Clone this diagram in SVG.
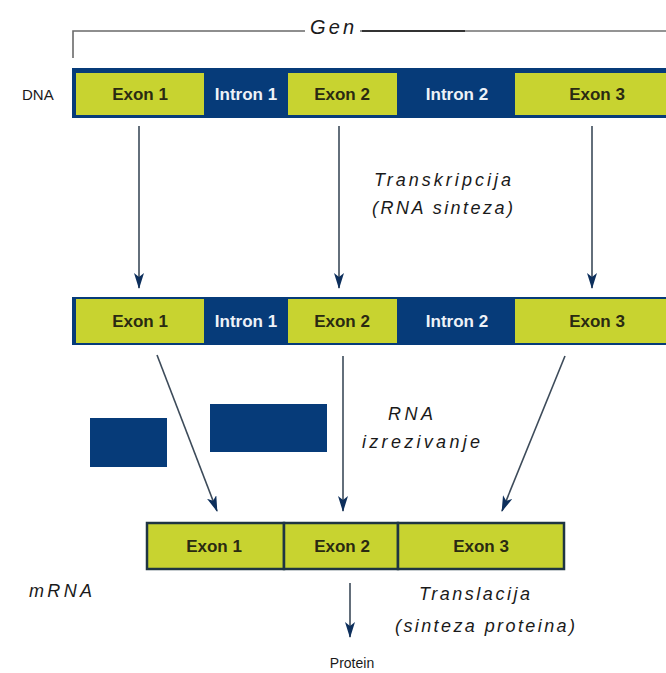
<svg xmlns="http://www.w3.org/2000/svg" width="666" height="673" viewBox="0 0 666 673">
<style>
.bg{fill:#ffffff}
.navy{fill:#063b79}
.exon{fill:#c8d330}
.ex{font-family:"Liberation Sans",Arial,sans-serif;font-size:17px;font-weight:bold;fill:#2a2a12;text-anchor:middle}
.in{font-family:"Liberation Sans",Arial,sans-serif;font-size:17px;font-weight:bold;fill:#eef2f8;text-anchor:middle}
.lab{font-family:"Liberation Sans",Arial,sans-serif;font-size:14px;fill:#1a1a1a}
.it{font-family:"Liberation Sans",Arial,sans-serif;font-size:18px;font-style:italic;fill:#1a1a1a}
.mexon{fill:#c8d330;stroke:#1f3542;stroke-width:2.5}
.conn{stroke:#3d4b5a;stroke-width:1.6;fill:none}
</style>
<defs>
<marker id="ah" viewBox="0 0 16 10" refX="15" refY="5" markerWidth="16" markerHeight="10" markerUnits="userSpaceOnUse" orient="auto">
<path d="M0,0 L16,5 L0,10 L4,5 z" fill="#0d2f5c"/>
</marker>
</defs>
<rect class="bg" x="0" y="0" width="666" height="673"/>

<g id="gene-bracket">
<path d="M73,58 L73,31 L305,31" stroke="#6a6a6a" stroke-width="1.6" fill="none"/>
<path d="M360,31 L666,31" stroke="#707070" stroke-width="1.6" fill="none"/>
<path d="M362,31 L465,31" stroke="#333333" stroke-width="1.8" fill="none"/>
<text class="it" x="310" y="34" style="font-size:20px" textLength="44" lengthAdjust="spacing">Gen</text>
</g>

<g id="dna-label"><text class="lab" x="22" y="100" style="font-size:15px">DNA</text></g>

<g id="dna">
<rect class="navy" x="72" y="68" width="610" height="50"/>
<g id="dna-exon1"><rect class="exon" x="76" y="73" width="128" height="42"/><text class="ex" x="140" y="100">Exon 1</text></g>
<g id="dna-intron1"><text class="in" x="246" y="100">Intron 1</text></g>
<g id="dna-exon2"><rect class="exon" x="288" y="73" width="109" height="42"/><text class="ex" x="342" y="100">Exon 2</text></g>
<g id="dna-intron2"><text class="in" x="457" y="100">Intron 2</text></g>
<g id="dna-exon3"><rect class="exon" x="515" y="73" width="170" height="42"/><text class="ex" x="597" y="100">Exon 3</text></g>
</g>

<g id="pre-mrna">
<rect class="navy" x="72" y="297" width="610" height="48"/>
<g id="pre-exon1"><rect class="exon" x="76" y="299" width="128" height="44"/><text class="ex" x="140" y="327">Exon 1</text></g>
<g id="pre-intron1"><text class="in" x="246" y="327">Intron 1</text></g>
<g id="pre-exon2"><rect class="exon" x="288" y="299" width="109" height="44"/><text class="ex" x="342" y="327">Exon 2</text></g>
<g id="pre-intron2"><text class="in" x="457" y="327">Intron 2</text></g>
<g id="pre-exon3"><rect class="exon" x="515" y="299" width="170" height="44"/><text class="ex" x="597" y="327">Exon 3</text></g>
</g>

<g id="excised-intron1"><rect class="navy" x="90" y="418" width="77" height="49"/></g>
<g id="excised-intron2"><rect class="navy" x="210" y="404" width="117" height="48"/></g>

<g id="mrna">
<g id="m-exon1"><rect class="mexon" x="147" y="523" width="137" height="46"/><text class="ex" x="214" y="552">Exon 1</text></g>
<g id="m-exon2"><rect class="mexon" x="284" y="523" width="114" height="46"/><text class="ex" x="342" y="552">Exon 2</text></g>
<g id="m-exon3"><rect class="mexon" x="398" y="523" width="166" height="46"/><text class="ex" x="481" y="552">Exon 3</text></g>
</g>

<g id="mrna-label"><text class="it" x="29" y="597" textLength="63" lengthAdjust="spacing">mRNA</text></g>

<g id="transcription-label">
<text class="it" x="374" y="186" textLength="137" lengthAdjust="spacing">Transkripcija</text>
<text class="it" x="372" y="214" textLength="141" lengthAdjust="spacing">(RNA sinteza)</text>
</g>

<g id="splicing-label">
<text class="it" x="388" y="420" textLength="45" lengthAdjust="spacing">RNA</text>
<text class="it" x="362" y="448" textLength="118" lengthAdjust="spacing">izrezivanje</text>
</g>

<g id="translation-label">
<text class="it" x="419" y="600" textLength="111" lengthAdjust="spacing">Translacija</text>
<text class="it" x="395" y="632" textLength="180" lengthAdjust="spacing">(sinteza proteina)</text>
</g>

<g id="protein"><text class="lab" x="352" y="668" text-anchor="middle">Protein</text></g>

<g id="connectors">
<line class="conn" x1="139" y1="126" x2="139" y2="288" marker-end="url(#ah)"/>
<line class="conn" x1="339" y1="126" x2="339" y2="288" marker-end="url(#ah)"/>
<line class="conn" x1="592" y1="126" x2="592" y2="288" marker-end="url(#ah)"/>
<line class="conn" x1="157" y1="355" x2="217" y2="511" marker-end="url(#ah)"/>
<line class="conn" x1="343" y1="356" x2="343" y2="511" marker-end="url(#ah)"/>
<line class="conn" x1="565" y1="356" x2="502" y2="511" marker-end="url(#ah)"/>
<line class="conn" x1="350" y1="583" x2="350" y2="637" marker-end="url(#ah)"/>
</g>
</svg>
